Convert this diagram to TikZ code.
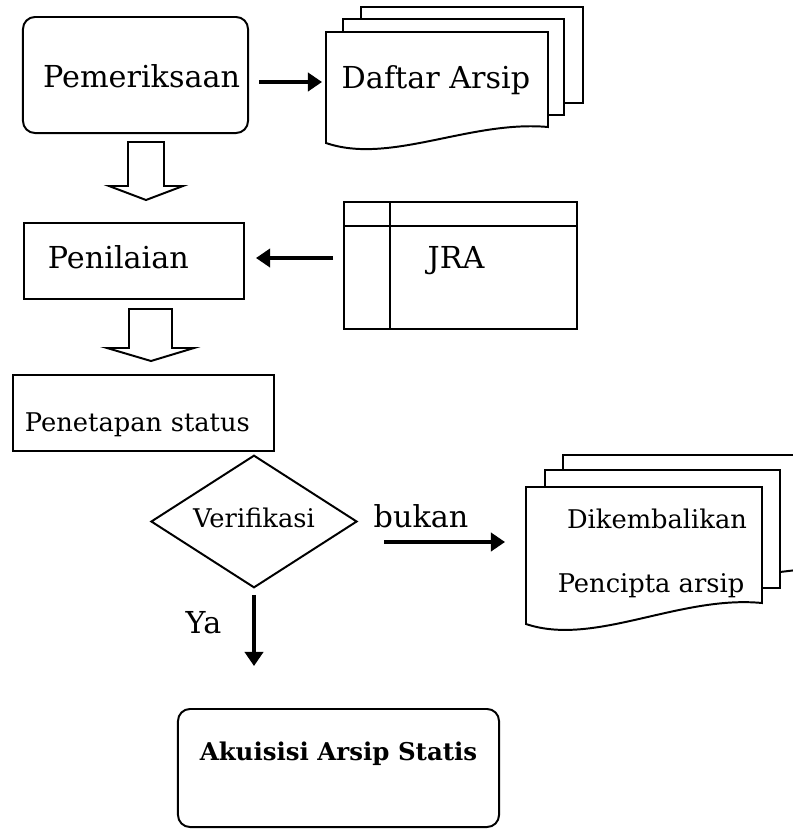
\documentclass[tikz,border=0pt]{standalone}
\usepackage{fontspec}
\setmainfont{DejaVu Serif}
\usetikzlibrary{arrows.meta,shapes.geometric}

\newcommand{\bigtxt}{\fontsize{21.5}{26}\selectfont}
\newcommand{\midtxt}{\fontsize{18.3}{22}\selectfont}
\newcommand{\boldtxt}{\fontsize{17.4}{21}\selectfont\bfseries}

\begin{document}
\begin{tikzpicture}[x=0.025cm,y=-0.025cm,line width=1.4pt,
                    >={Triangle[length=10pt,width=13pt]},
                    flow/.style={->,line width=2.2pt},
                    proc/.style={draw,rectangle,text depth=0pt},
                    term/.style={draw,rectangle,rounded corners=0.3cm,text depth=0pt},
                    page/.style={draw,fill=white},
                    every node/.style={font=\bigtxt}]

  \useasboundingbox (0,0) rectangle (793,829);

  % proses utama
  \node[term,minimum width=5.625cm,minimum height=2.9cm,inner xsep=0.2cm,
        text width=5.225cm,align=right,text height=0.6cm] (pem) at (135.5,75) {Pemeriksaan};
  \node[proc,minimum height=1.9cm,inner xsep=0.6cm,text width=4.3cm,
        align=left,text height=0.35cm] (pen) at (134,261) {Penilaian};
  \node[proc,font=\midtxt,minimum height=1.9cm,inner xsep=0.3cm,text width=5.925cm,
        align=left,text height=0.9cm] (pst) at (143.5,413) {Penetapan status};
  \node[draw,diamond,font=\midtxt,inner sep=0pt,minimum width=5.15cm,minimum height=3.125cm,
        text height=0.275cm,text depth=0pt] (ver) at (254,521.5) {Verifikasi};
  \node[term,font=\boldtxt,minimum width=8.025cm,minimum height=2.95cm,
        text height=0pt,text depth=0.4cm] (aku) at (338.5,768) {Akuisisi Arsip Statis};

  % panah blok
  \draw (128,142) -- (128,186) -- (109,186) -- (146,200) -- (183,186) -- (164,186) -- (164,142) -- cycle;
  \draw (129,309) -- (129,348) -- (107,348) -- (151,361) -- (194,348) -- (172,348) -- (172,309) -- cycle;

  % daftar arsip
  \draw[page] (361,7) rectangle (583,103);
  \draw[page] (343,19) rectangle (564,115);
  \draw[page] (326,32) -- (548,32) -- (548,127)
    .. controls (470,120) and (390,165) .. (326,143) -- cycle;
  \node[anchor=base] (daftar) at (436,88) {Daftar Arsip};

  % JRA
  \node[draw,line width=1.9pt,minimum width=5.825cm,minimum height=3.175cm] (jra) at (460.5,265.5) {};
  \draw[line width=1.9pt] (390,202) -- (390,329) (344,226) -- (577,226);
  \node[anchor=base] (jratxt) at (456,268) {JRA};

  % dikembalikan
  \draw[page] (563,455) -- (805,455) -- (805,569) -- (780,572) -- (563,572) -- cycle;
  \draw[page] (545,470) rectangle (780,588);
  \draw[page] (526,487) -- (762,487) -- (762,603)
    .. controls (679,595) and (594,647) .. (526,624) -- cycle;
  \node[anchor=base,font=\midtxt] (kembali) at (657,528) {Dikembalikan};
  \node[anchor=base,font=\midtxt] (pencipta) at (651,592) {Pencipta arsip};

  % panah
  \coordinate (daftarW) at (326,82);
  \coordinate (jraW) at (344,258);
  \coordinate (kembaliW) at (526,542);
  \draw[flow,shorten <=0.25cm,shorten >=0.1cm] (pem.east |- daftarW) -- (daftarW);
  \draw[flow,shorten <=0.275cm,shorten >=0.275cm] (jraW) -- (pen.east |- jraW);
  \draw[flow,shorten <=0.65cm,shorten >=0.525cm] (ver.east |- kembaliW) -- (kembaliW);
  \draw[flow,shorten <=0.15cm,shorten >=1.05cm] (ver.south) -- (ver.south |- aku.north);
  \node[anchor=base] (bukan) at (421,527) {bukan};
  \node[anchor=base] (ya) at (203.5,633) {Ya};

\end{tikzpicture}
\end{document}
